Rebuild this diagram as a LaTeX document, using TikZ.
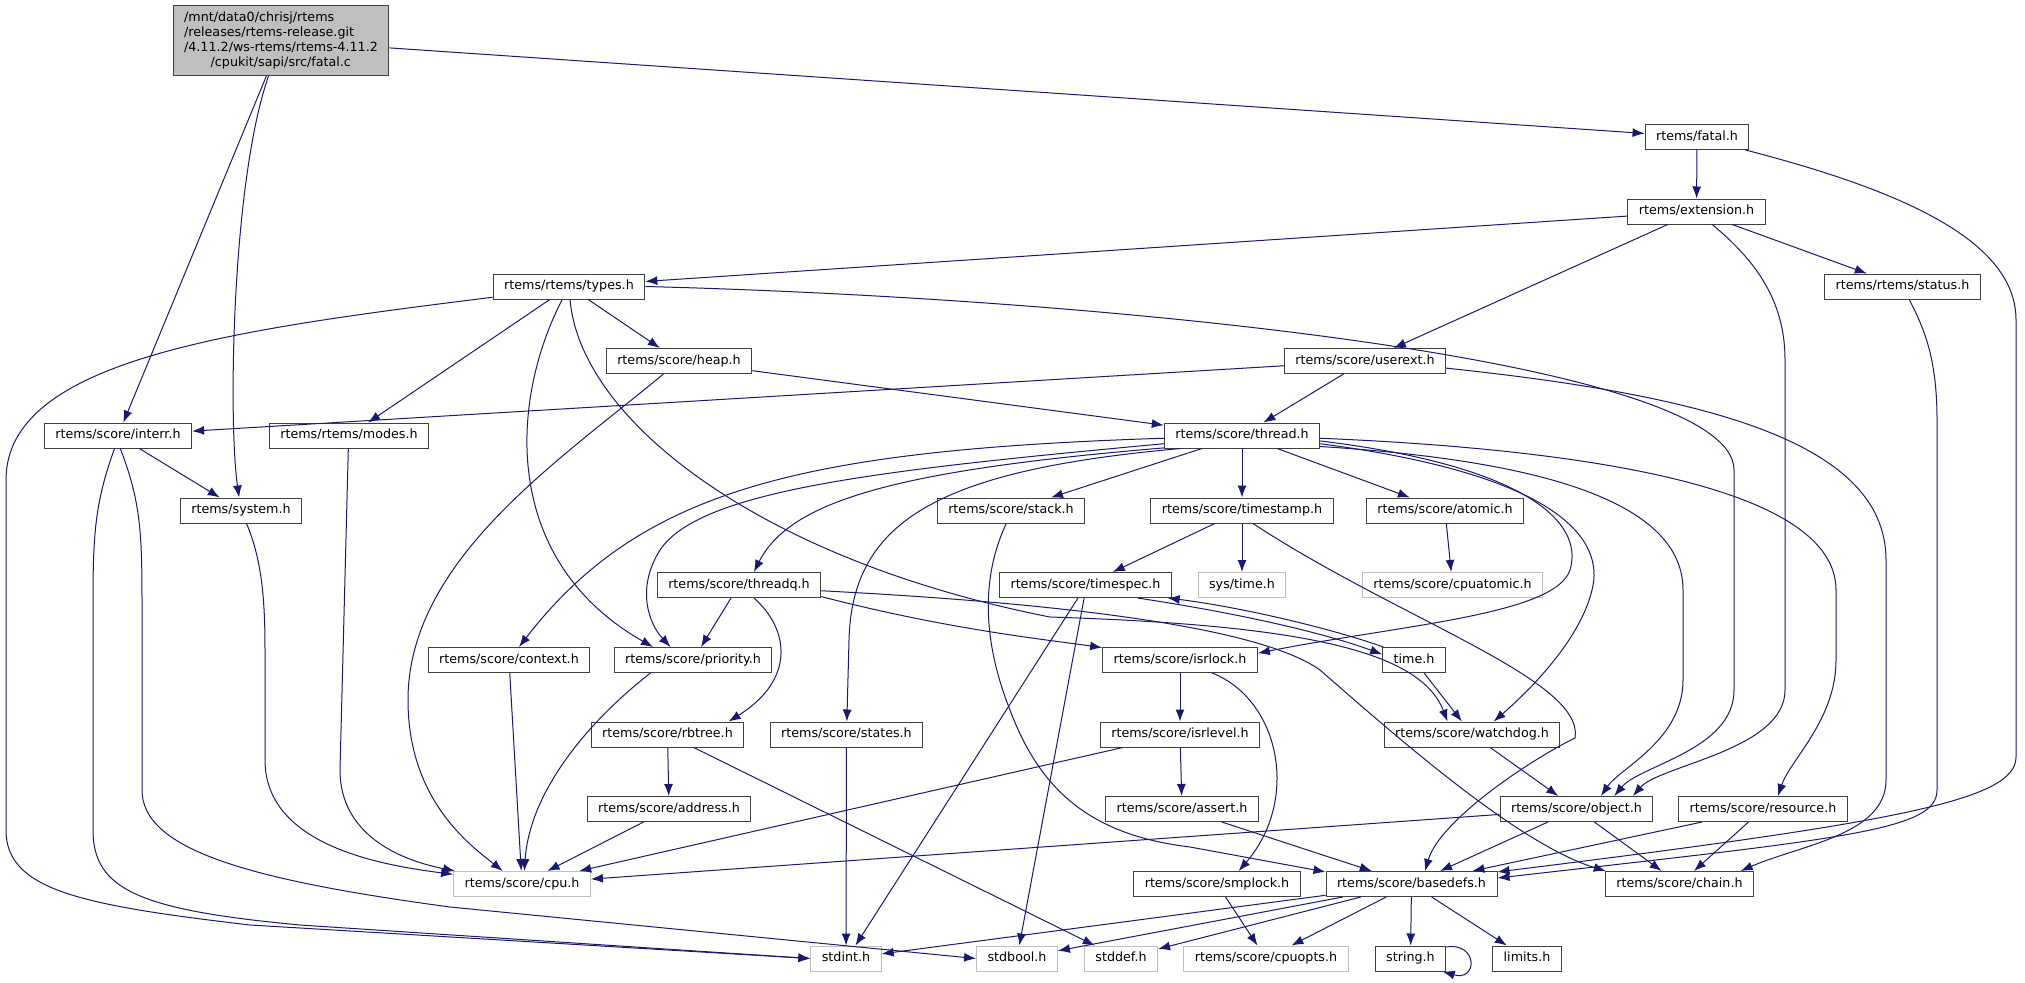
\documentclass[tikz,border=0pt]{standalone}
\usepackage{fontspec}
\setmainfont{DejaVu Sans}
\usepackage{tikz}
\usetikzlibrary{arrows.meta}
\definecolor{edgeblue}{HTML}{191970}
\definecolor{boxline}{HTML}{404040}
\definecolor{missline}{HTML}{BFBFBF}
\definecolor{srcfill}{HTML}{BFBFBF}

\begin{document}
\begin{tikzpicture}[x=1pt, y=-1pt,
  hdr/.style={draw=boxline, fill=white, line width=1pt, inner xsep=11pt, inner ysep=0pt,
    minimum height=25pt, text height=9.5pt, text depth=3pt, font=\fontsize{12.7}{15}\selectfont},
  nofile/.style={hdr, draw=missline},
  src/.style={draw=boxline, fill=srcfill, line width=1pt, inner xsep=11pt, align=left,
    minimum height=70pt, font=\fontsize{12.7}{15}\selectfont},
  dep/.style={draw=edgeblue, line width=1pt, -{Latex[length=12pt,width=9pt]}}]
  \fill[white] (0,0) rectangle (2025,978);
\node[src] (fatalc) at (281,40.5) {/mnt/data0/chrisj/rtems\\/releases/rtems-release.git\\/4.11.2/ws-rtems/rtems-4.11.2\\\hspace*{26.6pt}/cpukit/sapi/src/fatal.c};
\node[hdr] (fatalh) at (1697,137) {rtems/fatal.h};
\node[hdr] (exth) at (1696.5,211.5) {rtems/extension.h};
\node[hdr] (types) at (569,286.5) {rtems/rtems/types.h};
\node[hdr] (status) at (1902.5,286.5) {rtems/rtems/status.h};
\node[hdr] (heap) at (679,361) {rtems/score/heap.h};
\node[hdr] (userext) at (1365,361) {rtems/score/userext.h};
\node[hdr] (interr) at (118,435.5) {rtems/score/interr.h};
\node[hdr] (modes) at (349,435.5) {rtems/rtems/modes.h};
\node[hdr] (thread) at (1242,435.5) {rtems/score/thread.h};
\node[hdr] (system) at (241,510.5) {rtems/system.h};
\node[hdr] (stack) at (1011,510.5) {rtems/score/stack.h};
\node[hdr] (tstamp) at (1242,510.5) {rtems/score/timestamp.h};
\node[hdr] (atomic) at (1445,510.5) {rtems/score/atomic.h};
\node[hdr] (threadq) at (739,585) {rtems/score/threadq.h};
\node[hdr] (tspec) at (1085.5,585) {rtems/score/timespec.h};
\node[nofile] (systime) at (1242,585) {sys/time.h};
\node[nofile] (cpuatomic) at (1452.5,585) {rtems/score/cpuatomic.h};
\node[hdr] (context) at (509,660) {rtems/score/context.h};
\node[hdr] (prio) at (693,660) {rtems/score/priority.h};
\node[hdr] (isrlock) at (1180,660) {rtems/score/isrlock.h};
\node[hdr] (timeh) at (1414,660) {time.h};
\node[hdr] (rbtree) at (667.5,734.5) {rtems/score/rbtree.h};
\node[hdr] (states) at (846.5,734.5) {rtems/score/states.h};
\node[hdr] (isrlevel) at (1180,734.5) {rtems/score/isrlevel.h};
\node[hdr] (wdog) at (1472,734.5) {rtems/score/watchdog.h};
\node[hdr] (address) at (669,809) {rtems/score/address.h};
\node[hdr] (assert) at (1182,809) {rtems/score/assert.h};
\node[hdr] (object) at (1576.5,809) {rtems/score/object.h};
\node[hdr] (resource) at (1763,809) {rtems/score/resource.h};
\node[nofile] (cpu) at (522,884) {rtems/score/cpu.h};
\node[hdr] (smplock) at (1217,884) {rtems/score/smplock.h};
\node[hdr] (basedefs) at (1411.5,884) {rtems/score/basedefs.h};
\node[hdr] (chain) at (1679.5,884) {rtems/score/chain.h};
\node[nofile] (stdint) at (846,958.5) {stdint.h};
\node[nofile] (stdbool) at (1017,958.5) {stdbool.h};
\node[nofile] (stddef) at (1121,958.5) {stddef.h};
\node[nofile] (cpuopts) at (1266,958.5) {rtems/score/cpuopts.h};
\node[hdr] (string) at (1410.5,958.5) {string.h};
\node[hdr] (limits) at (1527,958.5) {limits.h};
  \draw[dep] (fatalc) -- (fatalh);
  \draw[dep] (fatalc) -- (interr);
  \draw[dep] (fatalc) .. controls (232,180) and (228,420) .. (system);
  \draw[dep] (fatalh) -- (exth);
  \draw[dep] (fatalh.-15) .. controls (1900,190) and (2016,240) .. (2016,320) -- (2016,757) .. controls (2016,800) and (1900,822) .. (basedefs.8);
  \draw[dep] (exth) -- (types);
  \draw[dep] (exth) -- (userext);
  \draw[dep] (exth) -- (status);
  \draw[dep] (exth) .. controls (1755,260) and (1785,300) .. (1785,360) -- (1785,690) .. controls (1785,750) and (1660,765) .. (object.13);
  \draw[dep] (status) .. controls (1925,330) and (1937,360) .. (1937,420) -- (1937,790) .. controls (1937,830) and (1850,838) .. (basedefs.4);
  \draw[dep] (types.188) .. controls (230,330) and (6,360) .. (6,480) -- (6,830) .. controls (6,890) and (80,905) .. (250,925) -- (stdint.west);
  \draw[dep] (types) -- (modes);
  \draw[dep] (types) .. controls (510,400) and (500,560) .. (prio.162);
  \draw[dep] (types) -- (heap);
  \draw[dep] (types) .. controls (580,420) and (760,560) .. (1050,617) .. controls (1300,625) and (1420,650) .. (wdog.152);
  \draw[dep] (types.east) .. controls (1100,298) and (1734,360) .. (1734,470) -- (1734,690) .. controls (1734,750) and (1640,765) .. (object.19);
  \draw[dep] (heap) -- (thread);
  \draw[dep] (heap) .. controls (560,460) and (408,560) .. (408,700) .. controls (408,800) and (470,845) .. (cpu.146);
  \draw[dep] (userext) -- (interr);
  \draw[dep] (userext) -- (thread);
  \draw[dep] (userext.-5) .. controls (1700,395) and (1886,440) .. (1886,560) -- (1886,780) .. controls (1886,835) and (1800,845) .. (chain.12);
  \draw[dep] (interr) -- (system);
  \draw[dep] (interr.-105) .. controls (96,500) and (93,530) .. (93,600) -- (93,830) .. controls (93,890) and (140,910) .. (300,925) -- (stdint.west);
  \draw[dep] (interr.-80) .. controls (140,500) and (142,530) .. (142,600) -- (142,790) .. controls (142,850) and (250,880) .. (450,907) -- (stdbool.west);
  \draw[dep] (modes.-93) -- (340,770) .. controls (340,835) and (400,860) .. (cpu.169);
  \draw[dep] (system) .. controls (262,560) and (265,600) .. (265,650) -- (265,760) .. controls (265,845) and (380,865) .. (cpu.172);
  \draw[dep] (thread.182) .. controls (800,450) and (640,490) .. (context);
  \draw[dep] (thread.186) .. controls (880,470) and (700,490) .. (660,550) .. controls (635,590) and (650,625) .. (prio.150);
  \draw[dep] (thread.189) .. controls (900,470) and (790,500) .. (threadq.41);
  \draw[dep] (thread.192) .. controls (940,470) and (852,520) .. (849,640) -- (states);
  \draw[dep] (thread) -- (stack);
  \draw[dep] (thread) -- (tstamp);
  \draw[dep] (thread) -- (atomic);
  \draw[dep] (thread.-4) .. controls (1520,465) and (1585,520) .. (1570,570) .. controls (1555,615) and (1400,625) .. (isrlock.5);
  \draw[dep] (thread.-6) .. controls (1560,475) and (1605,540) .. (1592,590) .. controls (1580,640) and (1530,690) .. (wdog.31);
  \draw[dep] (thread.-8) .. controls (1500,458) and (1683,490) .. (1683,590) -- (1683,680) .. controls (1683,740) and (1620,768) .. (object.28);
  \draw[dep] (thread.-2) .. controls (1600,450) and (1836,490) .. (1836,590) -- (1836,660) .. controls (1836,720) and (1790,760) .. (resource.41);
  \draw[dep] (tstamp) -- (tspec);
  \draw[dep] (tstamp) -- (systime);
  \draw[dep] (tstamp.-50) .. controls (1400,620) and (1585,680) .. (1575,738) .. controls (1530,760) and (1440,820) .. (basedefs.44);
  \draw[dep] (atomic) -- (cpuatomic);
  \draw[dep] (stack.-110) .. controls (975,590) and (990,660) .. (1010,710) .. controls (1040,790) and (1090,835) .. (1190,847) -- (basedefs.172);
  \draw[dep] (tspec.-120) -- (stdint.54);
  \draw[dep] (tspec.-96) -- (stdbool.80);
  \draw[dep] (tspec.-14) .. controls (1250,615) and (1330,635) .. (timeh.170);
  \draw[dep] (timeh.157) .. controls (1330,628) and (1240,607) .. (tspec.-9);
  \draw[dep] (timeh) -- (wdog);
  \draw[dep] (threadq) -- (prio);
  \draw[dep] (threadq.-41) .. controls (790,630) and (795,680) .. (rbtree.12);
  \draw[dep] (threadq.-8) .. controls (950,630) and (1050,640) .. (isrlock.171);
  \draw[dep] (threadq.-4) .. controls (1000,600) and (1250,620) .. (1320,670) .. controls (1400,740) and (1520,845) .. (chain.170);
  \draw[dep] (context) -- (cpu);
  \draw[dep] (prio.-163) .. controls (590,720) and (530,790) .. (cpu.80);
  \draw[dep] (rbtree) -- (address);
  \draw[dep] (rbtree) -- (stddef);
  \draw[dep] (address) -- (cpu);
  \draw[dep] (states) -- (stdint);
  \draw[dep] (isrlock) -- (isrlevel);
  \draw[dep] (isrlock.-22) .. controls (1280,700) and (1300,800) .. (smplock.31);
  \draw[dep] (isrlevel) -- (assert);
  \draw[dep] (isrlevel) -- (cpu);
  \draw[dep] (assert) -- (basedefs);
  \draw[dep] (smplock) -- (cpuopts);
  \draw[dep] (wdog) -- (object);
  \draw[dep] (object) -- (cpu);
  \draw[dep] (object) -- (basedefs);
  \draw[dep] (object) -- (chain);
  \draw[dep] (resource) -- (basedefs);
  \draw[dep] (resource) -- (chain);
  \draw[dep] (basedefs) -- (stdint);
  \draw[dep] (basedefs) -- (stdbool);
  \draw[dep] (basedefs) -- (stddef);
  \draw[dep] (basedefs) -- (cpuopts);
  \draw[dep] (basedefs) -- (string);
  \draw[dep] (basedefs) -- (limits);
  \draw[dep] (string.18) .. controls (1478,942) and (1478,982) .. (string.-22);
\end{tikzpicture}
\end{document}
